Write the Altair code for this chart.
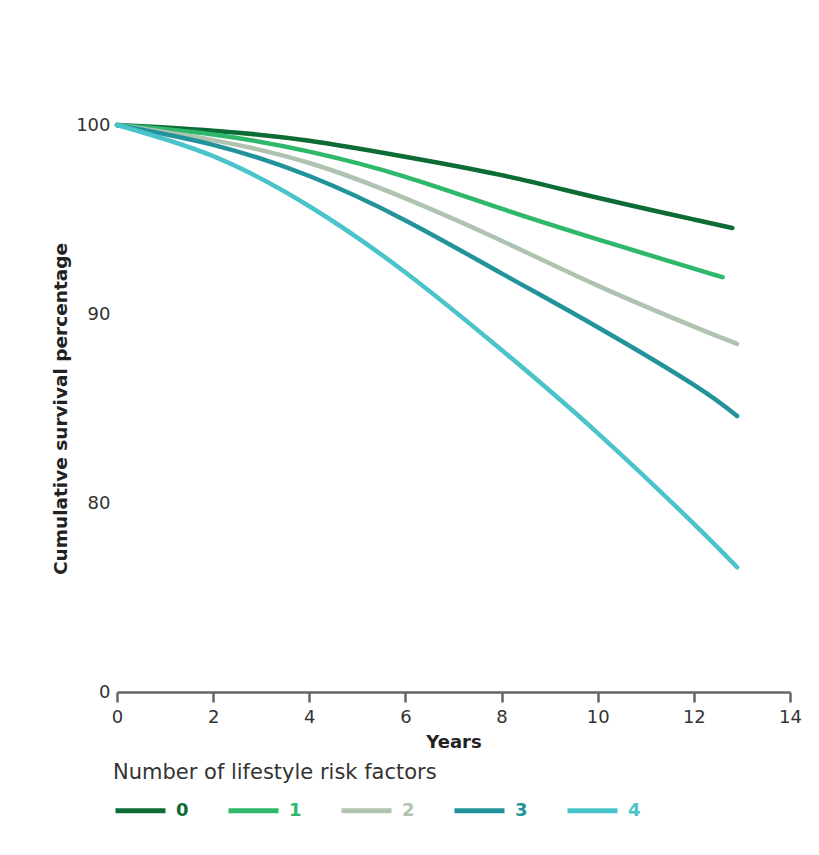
import altair as alt
import pandas as pd

# Survival curves (years, cumulative survival %)
years_0 = [0, 2, 4, 6, 8, 10, 12, 12.8]
surv_0 = [100, 99.7, 99.17, 98.32, 97.35, 96.15, 95.0, 94.55]

years_1 = [0, 2, 4, 6, 8, 10, 12, 12.6]
surv_1 = [100, 99.5, 98.59, 97.26, 95.57, 93.95, 92.4, 91.95]

years_2 = [0, 2, 4, 6, 8, 10, 12, 12.9]
surv_2 = [100, 99.2, 97.99, 96.12, 93.88, 91.5, 89.33, 88.42]

years_3 = [0, 2, 4, 6, 8, 10, 12, 12.9]
surv_3 = [100, 98.95, 97.3, 94.95, 92.15, 89.3, 86.25, 84.6]

years_4 = [0, 2, 4, 6, 8, 10, 12, 12.9]
surv_4 = [100, 98.35, 95.7, 92.2, 88.1, 83.7, 78.9, 76.6]

groups = ["0", "1", "2", "3", "4"]
colors = ["#0d6b35", "#2fb86b", "#afc3b0", "#22939a", "#4bc3cb"]

y_ticks = [70, 80, 90, 100]
x_ticks = [0, 2, 4, 6, 8, 10, 12, 14]

rows = []
for g, xs, ys in zip(groups, [years_0, years_1, years_2, years_3, years_4],
                     [surv_0, surv_1, surv_2, surv_3, surv_4]):
    for x, y in zip(xs, ys):
        rows.append({"group": g, "years": x, "survival": y})
df = pd.DataFrame(rows)

FONT = "DejaVu Sans"

chart = alt.Chart(df).mark_line(
    strokeWidth=4.5, strokeCap="round", interpolate="natural"
).encode(
    x=alt.X(
        "years:Q",
        scale=alt.Scale(domain=[0, 14], nice=False, zero=False),
        axis=alt.Axis(
            title="Years", values=x_ticks, grid=False, labelFlush=False,
            domainColor="#666666", domainWidth=2.5, tickColor="#666666",
            tickWidth=2.5, tickSize=10, labelPadding=6,
            labelFontSize=18, labelColor="#333333", labelFont=FONT,
            titleFontSize=18, titleFont=FONT, titleFontWeight="bold",
            titleColor="#222222", titlePadding=7,
        ),
    ),
    y=alt.Y(
        "survival:Q",
        scale=alt.Scale(domain=[70, 100], nice=False, zero=False),
        axis=alt.Axis(
            title="Cumulative survival percentage", values=y_ticks,
            labelExpr="datum.value == 70 ? '0' : datum.label",
            grid=False, domain=False, ticks=False, labelPadding=7,
            labelFlush=False,
            labelFontSize=18, labelColor="#333333", labelFont=FONT,
            titleFontSize=18.5, titleFont=FONT, titleFontWeight="bold",
            titleColor="#222222", titlePadding=5,
        ),
    ),
    color=alt.Color(
        "group:N",
        scale=alt.Scale(domain=groups, range=colors),
        legend=alt.Legend(
            title="Number of lifestyle risk factors",
            orient="none", legendX=-4, legendY=637,
            direction="horizontal", columns=5, columnPadding=29,
            titleFontSize=21, titleFont=FONT, titleFontWeight="normal",
            titleColor="#333333", titlePadding=0, titleLimit=600,
            labelFontSize=18, labelFont=FONT, labelFontWeight="bold",
            labelOffset=8,
            labelColor={"expr": "scale('color', datum.value)"},
            symbolType="stroke", symbolSize=2500, symbolStrokeWidth=5,
        ),
    ),
    detail="group:N",
).properties(
    width=673,
    height=567,
    autosize=alt.AutoSizeParams(type="none"),
    padding={"left": 109, "top": 117, "right": 20, "bottom": 150},
    background="white",
).configure_view(stroke=None)

chart.save("out.html", embed_options={"renderer": "svg", "actions": False})
